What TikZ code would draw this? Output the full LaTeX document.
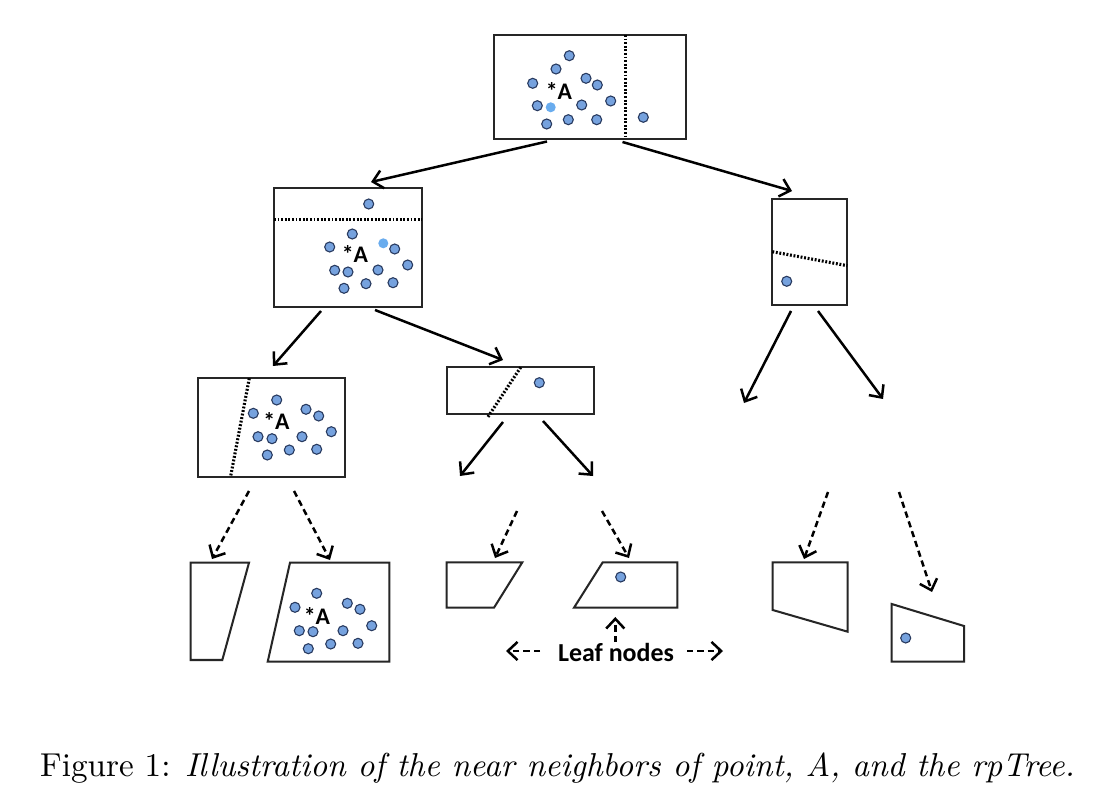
\documentclass[tikz,border=0pt]{standalone}
\usepackage{fontspec}
\newfontfamily\calfont{Carlito}
\usetikzlibrary{arrows.meta}
\definecolor{dotfill}{RGB}{118,162,222}
\definecolor{dotline}{RGB}{40,58,95}
\definecolor{dotlight}{RGB}{105,172,238}
\begin{document}
\begin{tikzpicture}[x=0.32pt,y=-0.32pt,
  box/.style={draw=black!85,line width=0.65pt,line join=miter},
  splitline/.style={line width=1pt,dash pattern=on 0.6pt off 0.55pt,black},
  arr/.style={line width=0.8pt,-{Straight Barb[length=3.1pt,width=5.8pt,line width=0.8pt]}},
  darr/.style={arr,dash pattern=on 2pt off 1.3pt},
  pnt/.style={fill=dotfill,draw=dotline,line width=0.35pt},
  pntl/.style={fill=dotlight},
  alab/.style={inner sep=0pt,font=\calfont\bfseries\fontsize{7.6}{8}\selectfont},
  leaflab/.style={inner sep=0pt,font=\calfont\bfseries\fontsize{8.3}{9}\selectfont},
  caption/.style={inner sep=0pt,font=\fontsize{10.6}{12}\selectfont}]
\useasboundingbox[fill=white] (0,0) rectangle (1108,806);

% ---------- level 1 (root)
\draw[box] (494,35) rectangle (686,139);
\draw[splitline] (625.5,35) -- (625.5,139);
\foreach \x/\y in {569.3/55.7,556/69,532.7/83.3,586/78.3,597.3/85,537.3/105.7,581.7/105,610.7/101,546.7/124,568.3/119.7,596.7/119.7,643.3/117.3}
  \draw[pnt] (\x,\y) circle[radius=1.6pt];
\fill[pntl] (550.7,107.3) circle[radius=1.6pt];
\node[alab] (A1) at (559,91) {*A};

% ---------- level 2 left
\draw[box] (274,188) rectangle (422,307);
\draw[splitline] (274,219.3) -- (422,219.3);
\foreach \x/\y in {368.7/204,352.3/234,329.7/247,394.7/249,407.7/265,334.7/270.3,348/272,378/270,344/288.3,366/283.7,393/282.7}
  \draw[pnt] (\x,\y) circle[radius=1.6pt];
\fill[pntl] (383.3,243.3) circle[radius=1.6pt];
\node[alab] (A2) at (355,254.5) {*A};

% ---------- level 2 right
\draw[box] (772.3,199.3) rectangle (847.3,304.7);
\draw[splitline] (772.3,251.7) -- (847.3,265.7);
\draw[pnt] (786.7,281.3) circle[radius=1.6pt];

% ---------- level 3 left
\draw[box] (198.3,378.3) rectangle (345,476.7);
\draw[splitline] (249.3,378.3) -- (230.7,476);
\foreach \x/\y in {276.7/400,253.3/413.3,306/409.3,318.7/416,331.3/431.7,258/436.7,272/438.7,302/436.7,267.3/455,289.3/450,316.7/449.3}
  \draw[pnt] (\x,\y) circle[radius=1.6pt];
\node[alab] (A3) at (276.5,421) {*A};

% ---------- level 3 middle
\draw[box] (446.7,367.3) rectangle (594,414);
\draw[splitline] (520.7,367.3) -- (487.7,417.3);
\draw[pnt] (539.3,382.7) circle[radius=1.6pt];

% ---------- leaves
\draw[box] (190.7,562.7) -- (249,562.7) -- (222.3,660) -- (190.7,660) -- cycle;
\draw[box] (290,562.7) -- (389.3,562.7) -- (389.3,661.7) -- (267.7,661.7) -- cycle;
\foreach \x/\y in {316.7/593.3,295/607.3,347.3/603.3,360/609.3,371.7/625.7,299.3/630.7,313/631.7,343/630.7,308.3/648.7,330.7/644,358/643.3}
  \draw[pnt] (\x,\y) circle[radius=1.6pt];
\node[alab] (A4) at (317,615.5) {*A};
\draw[box] (446.7,562.3) -- (522.3,562.3) -- (494,607.7) -- (446.7,607.7) -- cycle;
\draw[box] (602.7,562.3) -- (677.3,562.3) -- (677.3,607.7) -- (574,607.7) -- cycle;
\draw[pnt] (620.7,577) circle[radius=1.6pt];
\draw[box] (772.7,562.3) -- (847.7,562.3) -- (847.7,631.7) -- (772.7,610) -- cycle;
\draw[box] (891.7,604) -- (964,626) -- (964,661.7) -- (891.7,661.7) -- cycle;
\draw[pnt] (905.7,638) circle[radius=1.6pt];

\node[leaflab] (leaf) at (616,652) {Leaf nodes};

% ---------- connector end points
\coordinate (r1) at (547,141.5);   \coordinate (l2a) at (371,182);
\coordinate (r2) at (622.5,142);   \coordinate (r2a) at (792,191);
\coordinate (b1) at (321,311);     \coordinate (b1a) at (273,366);
\coordinate (b2) at (375,310);     \coordinate (b2a) at (503,360);
\coordinate (c1) at (791,311);     \coordinate (c1a) at (744,403);
\coordinate (c2) at (818,311);     \coordinate (c2a) at (883,399);
\coordinate (d1) at (503,422);     \coordinate (d1a) at (460,476);
\coordinate (d2) at (543,421);     \coordinate (d2a) at (593,476);
\coordinate (e1) at (249,491);     \coordinate (e1a) at (212,559);
\coordinate (e2) at (294,491);     \coordinate (e2a) at (330,560);
\coordinate (f1) at (517,511);     \coordinate (f1a) at (495,558);
\coordinate (f2) at (602,511);     \coordinate (f2a) at (629,558);
\coordinate (g1) at (828,492);     \coordinate (g1a) at (804,559);
\coordinate (g2) at (899,492);     \coordinate (g2a) at (932,592);
\coordinate (h1) at (615.3,642);   \coordinate (h1a) at (615.3,617);
\coordinate (h2) at (540,651);     \coordinate (h2a) at (506,651);
\coordinate (h3) at (687,651);     \coordinate (h3a) at (723,651);

\draw[arr] (r1) -- (l2a);
\draw[arr] (r2) -- (r2a);
\draw[arr] (b1) -- (b1a);
\draw[arr] (b2) -- (b2a);
\draw[arr] (c1) -- (c1a);
\draw[arr] (c2) -- (c2a);
\draw[arr] (d1) -- (d1a);
\draw[arr] (d2) -- (d2a);
\draw[darr] (e1) -- (e1a);
\draw[darr] (e2) -- (e2a);
\draw[darr] (f1) -- (f1a);
\draw[darr] (f2) -- (f2a);
\draw[darr] (g1) -- (g1a);
\draw[darr] (g2) -- (g2a);
\draw[darr] (h1) -- (h1a);
\draw[darr] (h2) -- (h2a);
\draw[darr] (h3) -- (h3a);

% ---------- caption
\node[caption] (cap) at (557.5,768) {Figure 1: \textit{Illustration of the near neighbors of point, A, and the rpTree.}};
\end{tikzpicture}
\end{document}
